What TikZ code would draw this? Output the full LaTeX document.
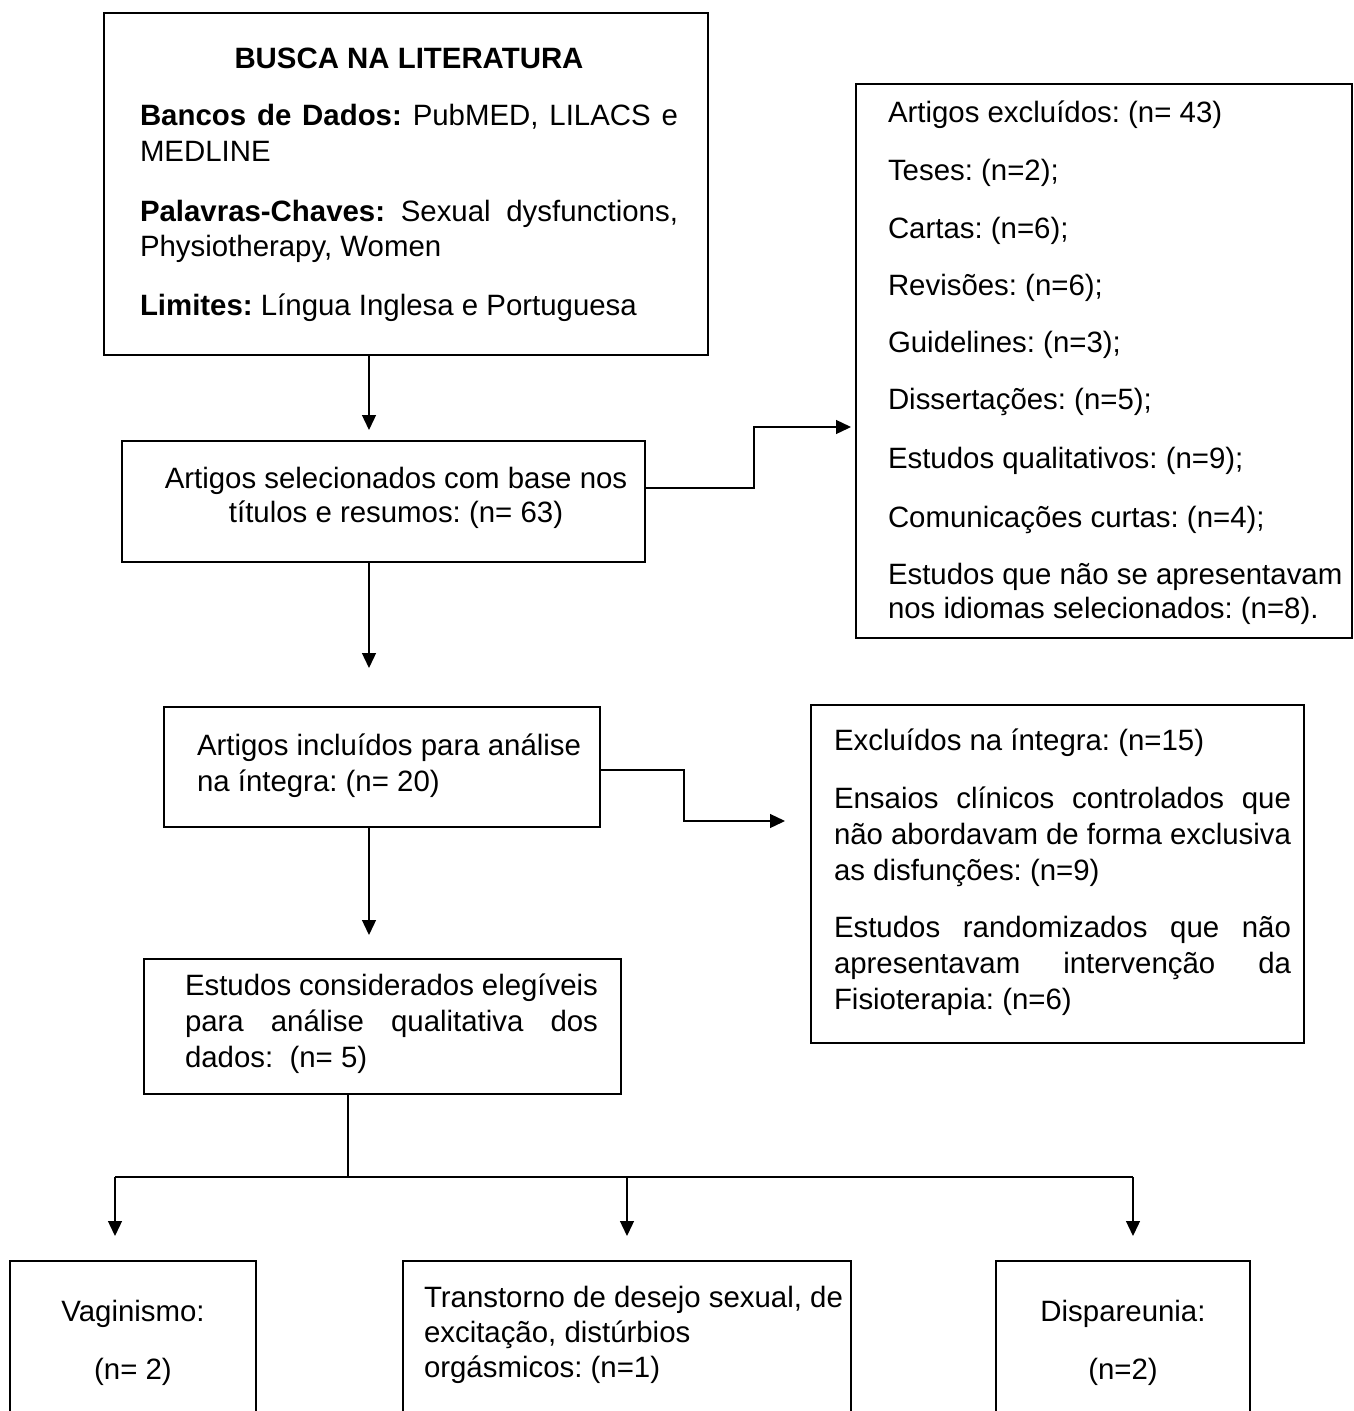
\documentclass[tikz,border=0pt]{standalone}
\usepackage{fontspec}
\setmainfont{Liberation Sans}
\usetikzlibrary{arrows.meta}
\frenchspacing
\begin{document}
\begin{tikzpicture}[x=1pt,y=-1pt,
  box/.style={draw, line width=2.2pt, inner sep=0pt, outer sep=0pt, anchor=north west},
  txt/.style={inner sep=0pt, outer sep=0pt, anchor=base west, font=\fontsize{29.4}{35}\selectfont},
  ctxt/.style={txt, anchor=base},
  link/.style={line width=1.3pt},
  arr/.style={link, -{Triangle[length=15pt,width=14pt]}}]
\clip (0,0) rectangle (1354,1411);
\fill[white] (0,0) rectangle (1354,1411);

% boxes
\node[box, minimum width=604pt, minimum height=342pt] (busca) at (104,13) {};
\node[box, minimum width=523pt, minimum height=121pt] (sel) at (122,441) {};
\node[box, minimum width=496pt, minimum height=554pt] (excl) at (856,84) {};
\node[box, minimum width=436pt, minimum height=120pt] (incl) at (164,707) {};
\node[box, minimum width=493pt, minimum height=338pt] (exint) at (811,705) {};
\node[box, minimum width=477pt, minimum height=135pt] (elig) at (144,959) {};
\node[box, minimum width=246pt, minimum height=200pt] (vag) at (10,1261) {};
\node[box, minimum width=448pt, minimum height=200pt] (trans) at (403,1261) {};
\node[box, minimum width=254pt, minimum height=200pt] (disp) at (996,1261) {};

% texts: busca
\node[ctxt] (b0) at (409,68) {\textbf{BUSCA NA LITERATURA}};
\node[txt] (b1) at (140,125) {\makebox[538pt][s]{\textbf{Bancos de Dados:} PubMED, LILACS e}};
\node[txt] (b2) at (140,161) {MEDLINE};
\node[txt] (b3) at (140,221) {\makebox[538pt][s]{\textbf{Palavras-Chaves:} Sexual dysfunctions,}};
\node[txt] (b4) at (140,256) {Physiotherapy, Women};
\node[txt] (b5) at (140,315) {\textbf{Limites:} Língua Inglesa e Portuguesa};

% selecionados
\node[ctxt] (s1) at (396,488) {Artigos selecionados com base nos};
\node[ctxt] (s2) at (396,522) {títulos e resumos: (n= 63)};

% excluidos
\node[txt] (e1) at (888,122) {Artigos excluídos: (n= 43)};
\node[txt] (e2) at (888,180) {Teses: (n=2);};
\node[txt] (e3) at (888,238) {Cartas: (n=6);};
\node[txt] (e4) at (888,295) {Revisões: (n=6);};
\node[txt] (e5) at (888,352) {Guidelines: (n=3);};
\node[txt] (e6) at (888,409) {Dissertações: (n=5);};
\node[txt] (e7) at (888,468) {Estudos qualitativos: (n=9);};
\node[txt] (e8) at (888,527) {Comunicações curtas: (n=4);};
\node[txt] (e9) at (888,584) {Estudos que não se apresentavam};
\node[txt] (e10) at (888,618) {nos idiomas selecionados: (n=8).};

% incluidos
\node[txt] (i1) at (197,755) {Artigos incluídos para análise};
\node[txt] (i2) at (197,791) {na íntegra: (n= 20)};

% excluidos na integra
\node[txt] (x1) at (834,750) {Excluídos na íntegra: (n=15)};
\node[txt] (x2) at (834,808) {\makebox[457pt][s]{Ensaios clínicos controlados que}};
\node[txt] (x3) at (834,844) {\makebox[457pt][s]{não abordavam de forma exclusiva}};
\node[txt] (x4) at (834,880) {as disfunções: (n=9)};
\node[txt] (x5) at (834,937) {\makebox[457pt][s]{Estudos randomizados que não}};
\node[txt] (x6) at (834,973) {\makebox[457pt][s]{apresentavam intervenção da}};
\node[txt] (x7) at (834,1009) {Fisioterapia: (n=6)};

% elegiveis
\node[txt] (g1) at (185,995) {\makebox[413pt][s]{Estudos considerados elegíveis}};
\node[txt] (g2) at (185,1031) {\makebox[413pt][s]{para análise qualitativa dos}};
\node[txt] (g3) at (185,1067) {dados:\ \ (n= 5)};

% bottom
\node[ctxt] (v1) at (133,1321) {Vaginismo:};
\node[ctxt] (v2) at (133,1379) {(n= 2)};
\node[txt] (r1) at (424,1307) {Transtorno de desejo sexual, de};
\node[txt] (r2) at (424,1342) {excitação, distúrbios};
\node[txt] (r3) at (424,1377) {orgásmicos: (n=1)};
\node[ctxt] (d1) at (1123,1321) {Dispareunia:};
\node[ctxt] (d2) at (1123,1379) {(n=2)};

% connector points
\coordinate (t1) at (369,430);
\coordinate (k1) at (754,488);
\coordinate (t2) at (851,427);
\coordinate (t3) at (369,668);
\coordinate (k2) at (684,770);
\coordinate (t4) at (785,821);
\coordinate (t5) at (369,935);
\coordinate (bus) at (348,1177);
\coordinate (bl) at (115,1177);
\coordinate (bm) at (627,1177);
\coordinate (br) at (1133,1177);

% connectors
\draw[arr] (busca.south -| t1) -- (t1);
\draw[arr] (sel.east |- k1) -- (k1) |- (t2);
\draw[arr] (sel.south -| t3) -- (t3);
\draw[arr] (incl.east |- k2) -- (k2) |- (t4);
\draw[arr] (incl.south -| t5) -- (t5);
\draw[link] (elig.south -| bus) -- (bus);
\draw[line width=1.6pt] (bl) -- (br);
\draw[arr, shorten >=25pt] (bl) -- (bl |- vag.north);
\draw[arr, shorten >=25pt] (bm) -- (bm |- trans.north);
\draw[arr, shorten >=25pt] (br) -- (br |- disp.north);
\end{tikzpicture}
\end{document}
